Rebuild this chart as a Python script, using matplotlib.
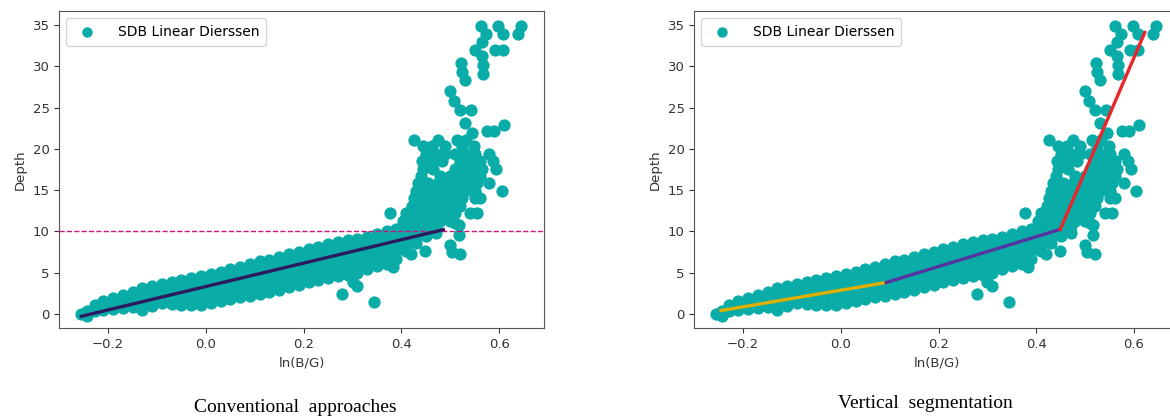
import matplotlib.pyplot as plt
import numpy as np

# scatter columns of the dense band: x position and the depths stacked at it
band_x = [-0.256, -0.244, -0.228, -0.21, -0.19, -0.17, -0.15, -0.13, -0.11, -0.09,
          -0.07, -0.05, -0.03, -0.01, 0.01, 0.03, 0.05, 0.07, 0.09, 0.11,
          0.13, 0.15, 0.17, 0.19, 0.21, 0.23, 0.25, 0.27, 0.29, 0.31,
          0.33, 0.35, 0.37, 0.39, 0.41, 0.43, 0.45, 0.47]
band_depths = [
    [0.0], [-0.3, 0.4], [0.3, 1.1], [0.5, 1.1, 1.6], [0.6, 1.3, 1.9],
    [0.7, 1.5, 2.3], [0.8, 1.5, 2.1, 2.7], [0.5, 1.2, 2.0, 2.7, 3.1],
    [1.0, 1.8, 2.6, 3.4], [1.3, 2.0, 2.8, 3.6],
    [1.2, 2.0, 2.9, 3.8], [1.1, 1.9, 2.7, 3.4, 4.1], [1.1, 1.9, 2.7, 3.5, 4.3],
    [1.1, 2.0, 2.8, 3.7, 4.6], [1.3, 2.2, 3.1, 4.0, 4.85], [1.5, 2.4, 3.3, 4.2, 5.1],
    [1.75, 2.65, 3.55, 4.45, 5.4], [2.0, 2.9, 3.8, 4.7, 5.65], [2.2, 3.1, 4.1, 5.0, 6.0],
    [2.4, 3.2, 4.0, 4.8, 5.6, 6.4],
    [2.6, 3.4, 4.2, 5.0, 5.8, 6.55], [2.85, 3.65, 4.45, 5.25, 6.05, 6.85],
    [3.2, 4.0, 4.8, 5.6, 6.4, 7.2], [3.55, 4.35, 5.15, 5.95, 6.75, 7.55],
    [3.85, 4.65, 5.45, 6.25, 7.05, 7.85], [4.15, 4.95, 5.75, 6.55, 7.35, 8.15],
    [4.4, 5.2, 6.0, 6.8, 7.6, 8.45], [4.6, 5.4, 6.2, 7.0, 7.9, 8.7],
    [4.75, 5.6, 6.4, 7.2, 8.1, 8.9], [4.95, 5.8, 6.6, 7.4, 8.3, 9.1],
    [5.4, 6.2, 7.0, 7.8, 8.6, 9.35], [5.75, 6.55, 7.35, 8.15, 8.95, 9.7],
    [6.1, 6.9, 7.7, 8.5, 9.3, 10.05], [6.7, 7.6, 8.5, 9.4, 10.3],
    [7.6, 8.35, 9.1, 9.85, 10.6], [8.6, 9.4, 10.2, 11.0], [9.4, 10.2, 11.0], [9.8, 10.6],
]

# rows of the upper cluster: depth and the ln(B/G) values on it
cluster_y = [21.1, 20.3, 19.4, 18.5, 17.6, 16.7, 15.8, 14.9, 14.0, 13.1, 12.2, 11.3]
cluster_x = [
    [0.426, 0.475, 0.514, 0.532],
    [0.445, 0.463, 0.49, 0.525, 0.548],
    [0.45, 0.47, 0.49, 0.51, 0.53, 0.55, 0.58],
    [0.443, 0.463, 0.483, 0.52, 0.54, 0.56, 0.587],
    [0.445, 0.465, 0.51, 0.53, 0.55, 0.565, 0.594],
    [0.44, 0.48, 0.50, 0.52, 0.54, 0.56],
    [0.435, 0.455, 0.475, 0.495, 0.515, 0.535, 0.555, 0.58],
    [0.43, 0.45, 0.47, 0.49, 0.51, 0.53, 0.55, 0.605],
    [0.425, 0.445, 0.465, 0.485, 0.505, 0.525, 0.551, 0.561],
    [0.422, 0.44, 0.46, 0.48, 0.50, 0.52],
    [0.377, 0.41, 0.43, 0.45, 0.47, 0.49, 0.51, 0.541, 0.555],
    [0.404, 0.42, 0.44, 0.46, 0.48, 0.50],
]

# scattered single points (outliers)
extra_x = [0.278, 0.345, 0.30, 0.31, 0.382, 0.385, 0.419, 0.448, 0.499, 0.503, 0.521,
           0.517, 0.517, 0.51, 0.545, 0.575, 0.589, 0.611, 0.531, 0.521, 0.543,
           0.507, 0.499, 0.531, 0.524, 0.522, 0.568, 0.568, 0.551, 0.565, 0.592,
           0.609, 0.562, 0.574, 0.565, 0.597, 0.609, 0.645, 0.638]
extra_y = [2.4, 1.4, 3.9, 3.4, 5.7, 6.5, 7.3, 7.6, 8.3, 7.5, 7.3,
           10.8, 9.6, 11.0, 21.9, 22.1, 22.1, 22.9, 23.1, 24.7, 24.7,
           25.8, 27.0, 28.3, 29.3, 30.4, 30.1, 29.1, 32.0, 31.2, 32.0,
           32.0, 34.9, 33.9, 33.0, 34.9, 33.9, 34.9, 33.9]

# fitted lines
conv_x = [-0.255, 0.486]
conv_y = [-0.3, 10.2]
threshold = 10
seg1_x, seg1_y = [-0.245, 0.093], [0.4, 3.8]
seg2_x, seg2_y = [0.093, 0.449], [3.8, 10.24]
seg3_x, seg3_y = [0.449, 0.622], [10.24, 34.1]

xs = []
ys = []
for x, col in zip(band_x, band_depths):
    xs += [x] * len(col)
    ys += col
for y, row in zip(cluster_y, cluster_x):
    xs += row
    ys += [y] * len(row)
xs += extra_x
ys += extra_y

teal = '#0aaca8'

fig = plt.figure(figsize=(11.7, 4.19), dpi=100)
ax1 = fig.add_axes([0.0507, 0.2165, 0.4143, 0.7573])
ax2 = fig.add_axes([0.5934, 0.2165, 0.4143, 0.7573])

for ax in (ax1, ax2):
    ax.scatter(xs, ys, s=78, color=teal, linewidths=0, label='SDB Linear Dierssen', zorder=2)
    ax.set_xlim(-0.30, 0.692)
    ax.set_ylim(-1.75, 36.7)
    ax.set_xticks([-0.2, 0.0, 0.2, 0.4, 0.6])
    ax.set_yticks(np.arange(0, 36, 5))
    ax.tick_params(labelsize=9.5, colors='#333333')
    ax.set_xlabel('ln(B/G)', fontsize=9.5, color='#333333')
    ax.set_ylabel('Depth', fontsize=9.5, color='#333333')
    for sp in ax.spines.values():
        sp.set_color('#555555')
    ax.legend(loc='upper left', fontsize=10, handletextpad=1.2, borderpad=0.5,
              markerscale=0.85)

ax1.axhline(threshold, color='#c8187c', linestyle='--', linewidth=1, zorder=3)
ax1.plot(conv_x, conv_y, color='#2b1b5e', linewidth=2.4, zorder=4)

ax2.plot(seg1_x, seg1_y, color='#e0b000', linewidth=2.4, zorder=4)
ax2.plot(seg2_x, seg2_y, color='#5533a0', linewidth=2.4, zorder=4)
ax2.plot(seg3_x, seg3_y, color='#e8262b', linewidth=2.4, zorder=4)

fig.text(295 / 1170, 1 - 407 / 419, 'Conventional  approaches', family='Liberation Serif',
         fontsize=14, ha='center', va='center')
fig.text(925 / 1170, 1 - 403 / 419, 'Vertical  segmentation', family='Liberation Serif',
         fontsize=14, ha='center', va='center')

fig.savefig('out.png', dpi=100)
